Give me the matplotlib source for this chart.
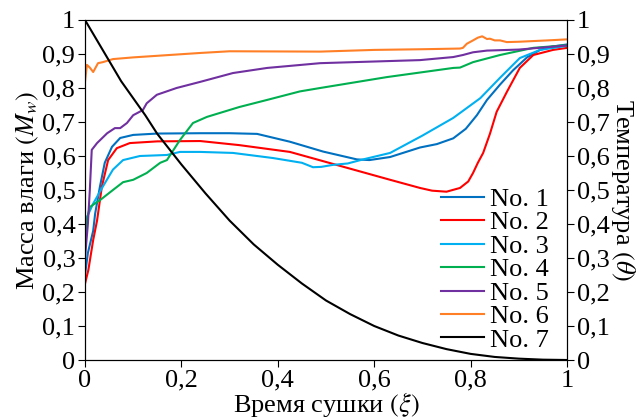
import matplotlib
matplotlib.use("Agg")
from matplotlib import pyplot as plt
from matplotlib.ticker import FuncFormatter, MultipleLocator

plt.rcParams['font.family'] = 'serif'
plt.rcParams['font.serif'] = ['Liberation Serif', 'Times New Roman', 'DejaVu Serif']
plt.rcParams['mathtext.fontset'] = 'stix'

# moisture curves (left axis)
no1_x = [0, 0.006, 0.017, 0.021, 0.031, 0.041, 0.056, 0.073, 0.1, 0.15, 0.24, 0.3, 0.357, 0.425,
         0.494, 0.564, 0.59, 0.633, 0.695, 0.73, 0.764, 0.79, 0.813, 0.834, 0.861, 0.888, 0.917,
         0.944, 0.97, 1]
no1_y = [0.25, 0.315, 0.38, 0.43, 0.51, 0.58, 0.627, 0.653, 0.662, 0.666, 0.667, 0.667, 0.665, 0.642,
         0.613, 0.59, 0.588, 0.597, 0.625, 0.635, 0.652, 0.68, 0.72, 0.765, 0.81, 0.852, 0.89,
         0.912, 0.922, 0.928]

no2_x = [0, 0.007, 0.017, 0.025, 0.035, 0.048, 0.066, 0.093, 0.15, 0.239, 0.32, 0.425, 0.529,
         0.633, 0.695, 0.72, 0.75, 0.778, 0.795, 0.805, 0.815, 0.826, 0.84, 0.854, 0.875, 0.902,
         0.93, 0.971, 1]
no2_y = [0.224, 0.265, 0.353, 0.41, 0.51, 0.588, 0.623, 0.638, 0.643, 0.644, 0.632, 0.612, 0.571,
         0.53, 0.506, 0.498, 0.495, 0.506, 0.525, 0.55, 0.58, 0.609, 0.665, 0.73, 0.788, 0.859,
         0.897, 0.912, 0.918]

no3_x = [0, 0.004, 0.017, 0.037, 0.058, 0.079, 0.114, 0.17, 0.197, 0.239, 0.307, 0.39, 0.45,
         0.473, 0.49, 0.515, 0.545, 0.577, 0.633, 0.70, 0.764, 0.82, 0.861, 0.902, 0.944, 1]
no3_y = [0.344, 0.42, 0.46, 0.51, 0.56, 0.588, 0.60, 0.603, 0.612, 0.612, 0.609, 0.594, 0.58,
         0.567, 0.568, 0.574, 0.578, 0.59, 0.609, 0.66, 0.712, 0.77, 0.83, 0.888, 0.912, 0.924]

no4_x = [0, 0.005, 0.01, 0.031, 0.058, 0.079, 0.1, 0.128, 0.156, 0.17, 0.197, 0.224, 0.253,
         0.32, 0.378, 0.446, 0.488, 0.626, 0.764, 0.778, 0.805, 0.861, 0.93, 1]
no4_y = [0.37, 0.42, 0.45, 0.47, 0.5, 0.523, 0.53, 0.55, 0.58, 0.588, 0.647, 0.697, 0.715,
         0.744, 0.765, 0.79, 0.8, 0.832, 0.859, 0.86, 0.876, 0.897, 0.918, 0.926]

no5_x = [0, 0.006, 0.01, 0.014, 0.025, 0.046, 0.062, 0.073, 0.087, 0.1, 0.12, 0.128, 0.149,
         0.19, 0.239, 0.307, 0.378, 0.488, 0.695, 0.764, 0.784, 0.805, 0.834, 0.9, 1]
no5_y = [0.3, 0.4, 0.5, 0.618, 0.638, 0.667, 0.682, 0.682, 0.697, 0.72, 0.735, 0.755, 0.78,
         0.80, 0.818, 0.844, 0.859, 0.873, 0.882, 0.891, 0.897, 0.905, 0.91, 0.913, 0.925]

no6_x = [0, 0.004, 0.01, 0.017, 0.027, 0.037, 0.058, 0.1, 0.239, 0.3, 0.488, 0.6, 0.7, 0.778,
         0.784, 0.792, 0.805, 0.815, 0.824, 0.834, 0.84, 0.85, 0.861, 0.875, 0.9, 0.96, 1]
no6_y = [0.818, 0.868, 0.86, 0.847, 0.873, 0.876, 0.885, 0.89, 0.903, 0.908, 0.907, 0.912, 0.914,
         0.916, 0.918, 0.93, 0.94, 0.948, 0.952, 0.944, 0.945, 0.94, 0.94, 0.935, 0.936, 0.94, 0.943]

# temperature (right axis)
no7_x = [0, 0.025, 0.05, 0.075, 0.1, 0.125, 0.15, 0.175, 0.2, 0.25, 0.3, 0.35, 0.4, 0.45, 0.5,
         0.55, 0.6, 0.65, 0.7, 0.75, 0.8, 0.85, 0.9, 0.95, 1]
no7_y = [1, 0.94, 0.88, 0.82, 0.77, 0.72, 0.665, 0.62, 0.575, 0.49, 0.41, 0.34, 0.28, 0.225, 0.175,
         0.135, 0.10, 0.072, 0.05, 0.032, 0.018, 0.009, 0.004, 0.001, 0]

ticks = [0, 0.1, 0.2, 0.3, 0.4, 0.5, 0.6, 0.7, 0.8, 0.9, 1]


def comma_fmt(v, pos):
    s = ('%.1f' % v).rstrip('0').rstrip('.')
    return s.replace('.', ',')


fs = 19
fig = plt.figure(figsize=(6.41, 4.19), dpi=100)
ax1 = fig.add_axes([0.1326, 0.1408, 0.752, 0.8115])
ax2 = ax1.twinx()

lw = 1.5
l1, = ax1.plot(no1_x, no1_y, color='#0070C0', lw=lw, label='No. 1')
l2, = ax1.plot(no2_x, no2_y, color='#FF0000', lw=lw, label='No. 2')
l3, = ax1.plot(no3_x, no3_y, color='#00B0F0', lw=lw, label='No. 3')
l4, = ax1.plot(no4_x, no4_y, color='#00B050', lw=lw, label='No. 4')
l5, = ax1.plot(no5_x, no5_y, color='#7030A0', lw=lw, label='No. 5')
l6, = ax1.plot(no6_x, no6_y, color='#FF7F27', lw=lw, label='No. 6')
l7, = ax2.plot(no7_x, no7_y, color='black', lw=lw, label='No. 7')

for ax in (ax1, ax2):
    ax.set_xlim(0, 1)
    ax.set_ylim(0, 1)
    ax.set_yticks(ticks)
    ax.yaxis.set_major_formatter(FuncFormatter(comma_fmt))
    ax.tick_params(direction='out', length=5, labelsize=fs, pad=2)
ax1.xaxis.set_major_locator(MultipleLocator(0.2))
ax1.xaxis.set_major_formatter(FuncFormatter(comma_fmt))

ax1.set_xlabel(r'Время сушки $(\xi)$', fontsize=fs, labelpad=-1)
ax1.set_ylabel(r'Масса влаги $(M_w)$', fontsize=fs, labelpad=1)
ax2.set_ylabel(r'Температура $(\theta)$', fontsize=fs, rotation=270, labelpad=20)

lines = [l1, l2, l3, l4, l5, l6, l7]
ax2.legend(lines, [l.get_label() for l in lines], loc='lower right', bbox_to_anchor=(1.0, -0.03),
           frameon=False, fontsize=fs, labelspacing=0.0, handlelength=1.65, handletextpad=0.2,
           borderaxespad=0.3)

fig.savefig('out.png', dpi=100)
